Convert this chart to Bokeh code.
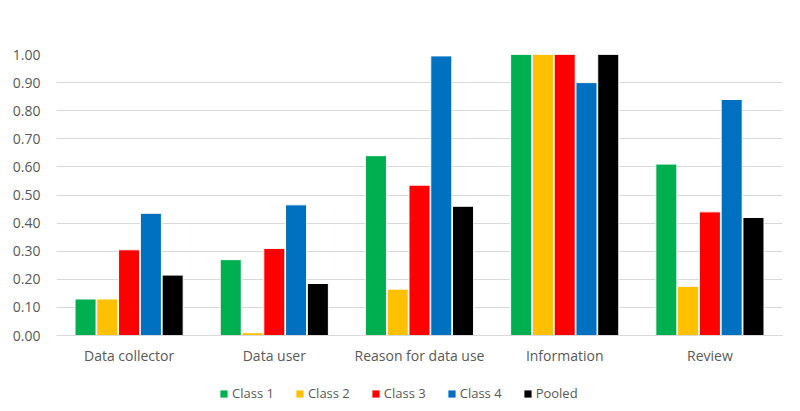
from bokeh.plotting import figure
from bokeh.layouts import column
from bokeh.models import ColumnDataSource, FactorRange, Range1d, NumeralTickFormatter, Legend, LegendItem, SingleIntervalTicker
from bokeh.transform import dodge
from bokeh.embed import file_html
from bokeh.resources import INLINE

categories = ["Data collector", "Data user", "Reason for data use", "Information", "Review"]
series_names = ["Class 1", "Class 2", "Class 3", "Class 4", "Pooled"]
class1 = [0.13, 0.27, 0.64, 1.00, 0.61]
class2 = [0.13, 0.01, 0.165, 1.00, 0.175]
class3 = [0.305, 0.31, 0.535, 1.00, 0.44]
class4 = [0.435, 0.465, 0.995, 0.90, 0.84]
pooled = [0.215, 0.185, 0.46, 1.00, 0.42]
colors = ["#00B050", "#FFC000", "#FF0000", "#0070C0", "#000000"]

src = ColumnDataSource(dict(cat=categories, s0=class1, s1=class2, s2=class3, s3=class4, s4=pooled))

font = "Open Sans"
offsets = [-0.3, -0.15, 0.0, 0.15, 0.3]

p = figure(x_range=FactorRange(*categories), y_range=Range1d(0, 1.0),
           width=792, height=375, min_border_left=56, min_border_right=10,
           min_border_top=54, min_border_bottom=40,
           output_backend="svg", toolbar_location=None)

for i, (name, off, col) in enumerate(zip(series_names, offsets, colors)):
    p.vbar(x=dodge("cat", off, range=p.x_range), top="s%d" % i, width=0.145, source=src,
           fill_color=col, line_color="white", line_width=1)

p.outline_line_color = None
p.xgrid.grid_line_color = None
p.ygrid.grid_line_color = "#d9d9d9"
p.ygrid.grid_line_width = 1
p.yaxis.ticker = SingleIntervalTicker(interval=0.1)
p.yaxis.formatter = NumeralTickFormatter(format="0.00")
p.yaxis.axis_line_color = None
p.yaxis.major_tick_line_color = None
p.yaxis.minor_tick_line_color = None
p.yaxis.major_label_text_font = font
p.yaxis.major_label_text_font_size = "14px"
p.yaxis.major_label_text_color = "#595959"
p.yaxis.major_label_standoff = 10

p.xaxis.axis_line_color = "#d9d9d9"
p.xaxis.major_tick_line_color = None
p.xaxis.minor_tick_line_color = None
p.xaxis.major_label_text_font = font
p.xaxis.major_label_text_font_size = "14px"
p.xaxis.major_label_text_color = "#595959"
p.xaxis.major_label_standoff = 4

# Legend strip: same series drawn in a strip whose y range lies above all values,
# so only the legend entries are visible.
lf = figure(x_range=FactorRange(*categories), y_range=Range1d(5, 6),
            width=792, height=30, min_border=0, x_axis_type=None, y_axis_type=None,
            output_backend="svg", toolbar_location=None)
lf.outline_line_color = None
lf.grid.visible = False
items = []
for i, (name, off, col) in enumerate(zip(series_names, offsets, colors)):
    r = lf.vbar(x=dodge("cat", off, range=lf.x_range), top="s%d" % i, width=0.145, source=src,
                fill_color=col, line_color=None)
    items.append(LegendItem(label=name, renderers=[r]))

legend = Legend(items=items, orientation="horizontal", location=(163, 3),
                label_text_font=font, label_text_font_size="13px", label_text_color="#595959",
                glyph_width=9, glyph_height=9, label_height=14, spacing=21, label_standoff=4,
                border_line_color=None, background_fill_alpha=0, padding=4, margin=0)
lf.add_layout(legend)

open("out.html", "w").write(file_html(column(p, lf, spacing=0), INLINE))
